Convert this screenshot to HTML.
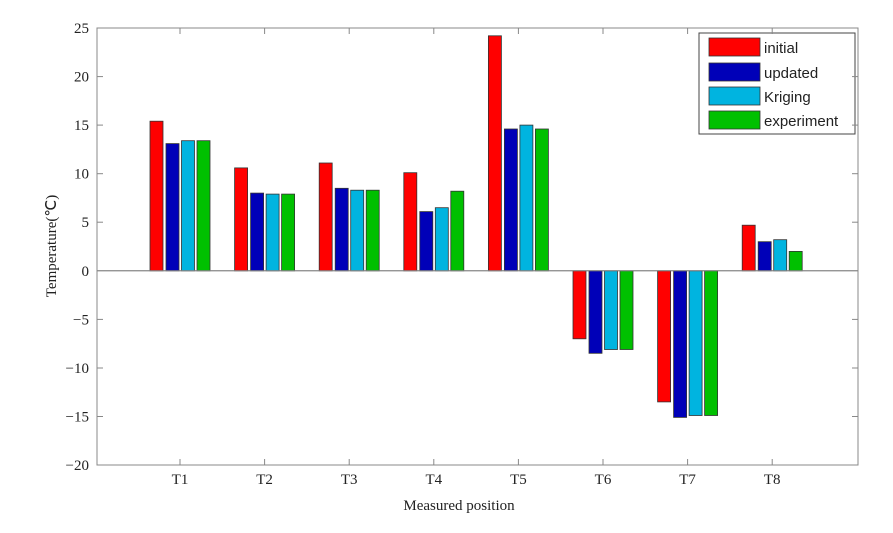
<!DOCTYPE html><html><head><style>body{margin:0;background:#fff}</style></head><body>
<svg width="893" height="528" xmlns="http://www.w3.org/2000/svg" font-family="Liberation Serif, serif" font-size="15">
<rect x="97" y="28" width="761" height="437" fill="#fff" stroke="#888"/>
<g id="bars" stroke="#333" stroke-width="0.8"></g>
<line x1="97" y1="270.8" x2="858" y2="270.8" stroke="#888"/>
<g id="ticks" stroke="#888"></g>
<g id="labels" fill="#222"></g>
<text x="459" y="510" text-anchor="middle" fill="#222">Measured position</text>
<text transform="translate(56,246) rotate(-90)" text-anchor="middle" fill="#222">Temperature(℃)</text>
<rect x="699" y="33" width="156" height="101" fill="#fff" stroke="#444"/>
<g font-family="Liberation Sans, sans-serif" font-size="15" fill="#222" stroke="#333" stroke-width="0.8">
<rect x="709" y="38" width="51" height="18" fill="#f00"/><text x="764" y="53" stroke="none">initial</text>
<rect x="709" y="63" width="51" height="18" fill="#0000b8"/><text x="764" y="78" stroke="none">updated</text>
<rect x="709" y="87" width="51" height="18" fill="#00b4e0"/><text x="764" y="102" stroke="none">Kriging</text>
<rect x="709" y="111" width="51" height="18" fill="#00c000"/><text x="764" y="126" stroke="none">experiment</text>
</g>
<g stroke="#333" stroke-width="0.8">
<rect x="150" y="121.2" width="13" height="149.6" fill="#f00"/><rect x="166" y="143.6" width="13" height="127.2" fill="#0000b8"/><rect x="181.5" y="140.7" width="13" height="130.1" fill="#00b4e0"/><rect x="197" y="140.7" width="13" height="130.1" fill="#00c000"/>
<rect x="234.6" y="167.9" width="13" height="102.9" fill="#f00"/><rect x="250.6" y="193.1" width="13" height="77.7" fill="#0000b8"/><rect x="266.1" y="194.1" width="13" height="76.7" fill="#00b4e0"/><rect x="281.6" y="194.1" width="13" height="76.7" fill="#00c000"/>
<rect x="319.2" y="163" width="13" height="107.8" fill="#f00"/><rect x="335.2" y="188.3" width="13" height="82.5" fill="#0000b8"/><rect x="350.7" y="190.2" width="13" height="80.6" fill="#00b4e0"/><rect x="366.2" y="190.2" width="13" height="80.6" fill="#00c000"/>
<rect x="403.8" y="172.7" width="13" height="98.1" fill="#f00"/><rect x="419.8" y="211.6" width="13" height="59.2" fill="#0000b8"/><rect x="435.3" y="207.7" width="13" height="63.1" fill="#00b4e0"/><rect x="450.8" y="191.2" width="13" height="79.6" fill="#00c000"/>
<rect x="488.4" y="35.8" width="13" height="235" fill="#f00"/><rect x="504.4" y="129" width="13" height="141.8" fill="#0000b8"/><rect x="519.9" y="125.1" width="13" height="145.7" fill="#00b4e0"/><rect x="535.4" y="129" width="13" height="141.8" fill="#00c000"/>
<rect x="573" y="270.8" width="13" height="68" fill="#f00"/><rect x="589" y="270.8" width="13" height="82.5" fill="#0000b8"/><rect x="604.5" y="270.8" width="13" height="78.7" fill="#00b4e0"/><rect x="620" y="270.8" width="13" height="78.7" fill="#00c000"/>
<rect x="657.6" y="270.8" width="13" height="131.1" fill="#f00"/><rect x="673.6" y="270.8" width="13" height="146.6" fill="#0000b8"/><rect x="689.1" y="270.8" width="13" height="144.7" fill="#00b4e0"/><rect x="704.6" y="270.8" width="13" height="144.7" fill="#00c000"/>
<rect x="742.2" y="225.2" width="13" height="45.6" fill="#f00"/><rect x="758.2" y="241.7" width="13" height="29.1" fill="#0000b8"/><rect x="773.7" y="239.7" width="13" height="31.1" fill="#00b4e0"/><rect x="789.2" y="251.4" width="13" height="19.4" fill="#00c000"/>
</g>
<line x1="97" y1="270.8" x2="858" y2="270.8" stroke="#888"/>
<g stroke="#888">
<line x1="180" y1="465" x2="180" y2="459"/><line x1="180" y1="28" x2="180" y2="34"/>
<line x1="264.6" y1="465" x2="264.6" y2="459"/><line x1="264.6" y1="28" x2="264.6" y2="34"/>
<line x1="349.2" y1="465" x2="349.2" y2="459"/><line x1="349.2" y1="28" x2="349.2" y2="34"/>
<line x1="433.8" y1="465" x2="433.8" y2="459"/><line x1="433.8" y1="28" x2="433.8" y2="34"/>
<line x1="518.4" y1="465" x2="518.4" y2="459"/><line x1="518.4" y1="28" x2="518.4" y2="34"/>
<line x1="603" y1="465" x2="603" y2="459"/><line x1="603" y1="28" x2="603" y2="34"/>
<line x1="687.6" y1="465" x2="687.6" y2="459"/><line x1="687.6" y1="28" x2="687.6" y2="34"/>
<line x1="772.2" y1="465" x2="772.2" y2="459"/><line x1="772.2" y1="28" x2="772.2" y2="34"/>
<line x1="97" y1="465" x2="103" y2="465"/><line x1="858" y1="465" x2="852" y2="465"/>
<line x1="97" y1="416.5" x2="103" y2="416.5"/><line x1="858" y1="416.5" x2="852" y2="416.5"/>
<line x1="97" y1="368" x2="103" y2="368"/><line x1="858" y1="368" x2="852" y2="368"/>
<line x1="97" y1="319.4" x2="103" y2="319.4"/><line x1="858" y1="319.4" x2="852" y2="319.4"/>
<line x1="97" y1="222.2" x2="103" y2="222.2"/><line x1="858" y1="222.2" x2="852" y2="222.2"/>
<line x1="97" y1="173.7" x2="103" y2="173.7"/><line x1="858" y1="173.7" x2="852" y2="173.7"/>
<line x1="97" y1="125.1" x2="103" y2="125.1"/><line x1="858" y1="125.1" x2="852" y2="125.1"/>
<line x1="97" y1="76.6" x2="103" y2="76.6"/><line x1="858" y1="76.6" x2="852" y2="76.6"/>
<line x1="97" y1="28" x2="103" y2="28"/><line x1="858" y1="28" x2="852" y2="28"/>
</g>
<g fill="#222" text-anchor="middle">
<text x="180" y="484">T1</text><text x="264.6" y="484">T2</text><text x="349.2" y="484">T3</text><text x="433.8" y="484">T4</text>
<text x="518.4" y="484">T5</text><text x="603" y="484">T6</text><text x="687.6" y="484">T7</text><text x="772.2" y="484">T8</text>
</g>
<g fill="#222" text-anchor="end">
<text x="89" y="470">−20</text><text x="89" y="421.5">−15</text><text x="89" y="373">−10</text><text x="89" y="324.4">−5</text>
<text x="89" y="275.8">0</text><text x="89" y="227.2">5</text><text x="89" y="178.7">10</text><text x="89" y="130.1">15</text>
<text x="89" y="81.6">20</text><text x="89" y="33">25</text>
</g>
</svg></body></html>
